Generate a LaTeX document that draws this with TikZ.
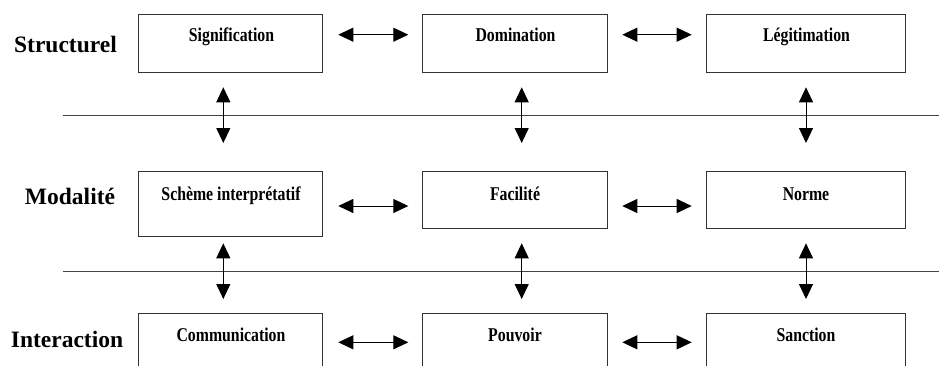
\documentclass[tikz,border=0pt]{standalone}
\usepackage{fontspec}
\setmainfont{Liberation Serif}
\newfontfamily\condfont[FakeStretch=0.81]{Liberation Serif}
\usetikzlibrary{arrows.meta}
\definecolor{boxline}{HTML}{333333}
\definecolor{sepline}{HTML}{444444}
\begin{document}
\begin{tikzpicture}[x=1pt,y=-1pt,
  box/.style={draw=boxline,line width=1pt,inner sep=0pt,minimum height=57.3pt},
  boxtxt/.style={anchor=base,inner sep=0pt,font=\condfont\bfseries\fontsize{19.5}{19.5}\selectfont},
  rowlabel/.style={anchor=base,inner sep=0pt,font=\bfseries\fontsize{23.5}{23.5}\selectfont},
  dbl/.style={line width=1pt,{Triangle[length=15pt,width=14pt]}-{Triangle[length=15pt,width=14pt]}},
  sep/.style={draw=sepline,line width=1.4pt}]
\useasboundingbox (0,0) rectangle (939,365);
\clip (0,0) rectangle (939,365);
% row labels
\node[rowlabel] (lS) at (65.5,52.5) {Structurel};
\node[rowlabel] (lM) at (70,204) {Modalité};
\node[rowlabel] (lI) at (67,347) {Interaction};
% boxes row 1
\node[box,minimum width=184.7pt] (s1) at (230.35,43.35) {};
\node[box,minimum width=184.6pt] (s2) at (515,43.35) {};
\node[box,minimum width=198.6pt] (s3) at (806,43.35) {};
% boxes row 2
\node[box,minimum width=184.7pt,minimum height=65.4pt] (m1) at (230.35,204) {};
\node[box,minimum width=184.6pt] (m2) at (515,200) {};
\node[box,minimum width=198.6pt] (m3) at (806,200) {};
% boxes row 3
\node[box,minimum width=184.7pt] (i1) at (230.35,342) {};
\node[box,minimum width=184.6pt] (i2) at (515,342) {};
\node[box,minimum width=198.6pt] (i3) at (806,342) {};
% texts
\node[boxtxt] (t11) at (231.5,41.7) {Signification};
\node[boxtxt] (t12) at (515.5,41.7) {Domination};
\node[boxtxt] (t13) at (806.5,41.7) {Légitimation};
\node[boxtxt] (t21) at (231,200.7) {Schème interprétatif};
\node[boxtxt] (t22) at (515,200) {Facilité};
\node[boxtxt] (t23) at (806,200) {Norme};
\node[boxtxt] (t31) at (231,341) {Communication};
\node[boxtxt] (t32) at (515,341) {Pouvoir};
\node[boxtxt] (t33) at (806,341) {Sanction};
% separator lines
\coordinate (h1a) at (63,115.7); \coordinate (h1b) at (939,115.7);
\coordinate (h2a) at (63,271.7); \coordinate (h2b) at (939,271.7);
\draw[sep] (h1a) -- (h1b);
\draw[sep] (h2a) -- (h2b);
% horizontal arrows
\foreach \r/\y in {s/34.7,m/206,i/342.3}{
  \draw[dbl] (338.3,\y) coordinate (\r a1) -- (408.3,\y) coordinate (\r b1);
  \draw[dbl] (622.3,\y) coordinate (\r a2) -- (691.7,\y) coordinate (\r b2);
}
% vertical arrows
\foreach \c/\x in {1/223.3,2/521.7,3/806}{
  \draw[dbl] (\x,87.3) coordinate (va\c) -- (\x,143) coordinate (vb\c);
  \draw[dbl] (\x,243.3) coordinate (wa\c) -- (\x,299) coordinate (wb\c);
}
\end{tikzpicture}
\end{document}
